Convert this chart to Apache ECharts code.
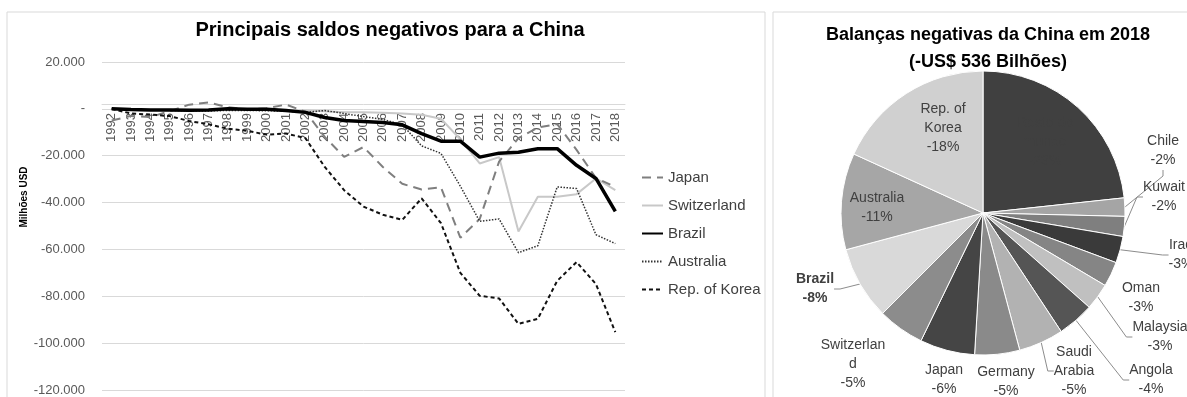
<!DOCTYPE html>
<html>
<head>
<meta charset="utf-8">
<script src="https://cdn.jsdelivr.net/npm/echarts@6/dist/echarts.min.js"></script>
<style>
  html, body { margin: 0; padding: 0; background: #fff; }
  #chart { width: 1187px; height: 397px; }
</style>
</head>
<body>
<div id="chart"></div>
<script>
// Line chart: saldos (milhões USD)
const years = ['1992','1993','1994','1995','1996','1997','1998','1999','2000','2001','2002','2003','2004','2005',
  '2006','2007','2008','2009','2010','2011','2012','2013','2014','2015','2016','2017','2018'];
const japan = [-5000,-3000,-3500,-1000,1800,2700,700,-300,300,1800,-1200,-12000,-20500,-16300,
  -24800,-32000,-34400,-33500,-55000,-47000,-22500,-12500,-8000,-6500,-17500,-29500,-33300];
const switzerland = [-200,-300,-400,-400,-400,-500,-300,-400,-500,-600,-700,-1000,-1500,-1500,
  -1700,-2000,-2500,-4200,-13000,-23300,-20600,-52300,-37500,-37500,-36400,-29700,-34700];
const brazil = [0,-300,-500,-500,-600,-500,0,-200,-200,-700,-1500,-3700,-5000,-5400,
  -5800,-6800,-10600,-13800,-13800,-20600,-18900,-18500,-17000,-17000,-24100,-29700,-43800];
const australia = [0,-200,-400,-600,-900,-900,-700,-700,-800,-1000,-1500,-700,-2000,-3300,
  -4500,-6800,-15800,-19000,-33000,-48000,-47000,-61400,-58400,-33300,-34000,-53700,-57500];
const korea = [0,-2000,-2400,-3100,-5200,-6600,-8500,-9400,-11000,-10500,-12500,-24800,-34700,-41700,
  -45200,-47400,-38200,-48800,-70000,-79800,-80900,-91800,-89600,-73400,-65400,-74800,-95300];

// Pie chart: 2018 (bilhões USD)
const pieTotal = 536;
const pieNames = ['Resto do mundo','Chile','Kuwait','Iraq','Oman','Malaysia','Angola','Saudi Arabia',
  'Germany','Japan','Switzerland','Brazil','Australia','Rep. of Korea'];
const pieLabels = ['Resto do\nmundo','Chile','Kuwait','Iraq','Oman','Malaysia','Angola','Saudi\nArabia',
  'Germany','Japan','Switzerlan\nd','Brazil','Australia','Rep. of\nKorea'];
const pieValues = [123,11,12,16,15,16,22,27,27,33,28,44,58,96];

const pieColors = ['#404040','#a5a5a5','#7f7f7f','#3a3a3a','#858585','#c0c0c0','#555555','#b2b2b2',
  '#8a8a8a','#454545','#8c8c8c','#d9d9d9','#a6a6a6','#d0d0d0'];
const insideSlices = ['Resto do mundo','Australia','Rep. of Korea'];
const noLeader = ['Oman','Germany','Japan','Switzerland'];
// where Excel put each data label (label centre)
const pieLabelPos = {
  'Resto do mundo': [1045, 142], 'Rep. of Korea': [943, 128], 'Australia': [877, 208],
  'Chile': [1163, 151], 'Kuwait': [1164, 197], 'Iraq': [1181, 255], 'Oman': [1141, 298],
  'Malaysia': [1160, 337], 'Angola': [1151, 380], 'Saudi Arabia': [1074, 371],
  'Germany': [1006, 382], 'Japan': [944, 380], 'Switzerland': [853, 364], 'Brazil': [815, 289]
};

const font = "'Liberation Sans', Arial, sans-serif";
const pieCenter = [983, 213];
const pieRadius = 142;

function fmtThousands(v) {
  if (v === 0) return '-';
  let s = String(Math.abs(v)).replace(/\B(?=(\d{3})+(?!\d))/g, '.');
  return (v < 0 ? '-' : '') + s;
}

let chart = echarts.init(document.getElementById('chart'));

let lineSeries = [
  { name: 'Japan', data: japan, color: '#7f7f7f', width: 2, type: [9, 6], z: 2 },
  { name: 'Switzerland', data: switzerland, color: '#c8c8c8', width: 2, type: 'solid', z: 1 },
  { name: 'Brazil', data: brazil, color: '#000000', width: 3.5, type: 'solid', z: 5 },
  { name: 'Australia', data: australia, color: '#333333', width: 1.5, type: [1.5, 1.5], z: 3 },
  { name: 'Rep. of Korea', data: korea, color: '#111111', width: 2, type: [4, 3], z: 4 }
].map((s) => ({
  name: s.name,
  type: 'line',
  data: s.data,
  symbol: 'none',
  z: s.z,
  color: s.color,
  lineStyle: { color: s.color, width: s.width, type: s.type },
  emphasis: { disabled: true }
}));

let pieData = pieNames.map((name, i) => {
  let item = { name: name, value: pieValues[i], itemStyle: { color: pieColors[i] } };
  let inside = insideSlices.indexOf(name) >= 0;
  item.label = { position: inside ? 'inside' : 'outside' };
  if (name == 'Brazil') item.label.fontWeight = 'bold';
  if (inside || noLeader.indexOf(name) >= 0) item.labelLine = { show: false };
  return item;
});

let option = {
  animation: false,
  backgroundColor: '#ffffff',
  textStyle: { fontFamily: font },
  graphic: [
    { type: 'rect', shape: { x: 7, y: 12, width: 758, height: 400 }, style: { fill: 'none', stroke: '#d9d9d9', lineWidth: 1 } },
    { type: 'rect', shape: { x: 773, y: 12, width: 430, height: 400 }, style: { fill: 'none', stroke: '#d9d9d9', lineWidth: 1 } },
    { type: 'text', x: 24, y: 197, rotation: Math.PI / 2,
      style: { text: 'Milhões USD', font: 'bold 10px ' + font, fill: '#000', align: 'center', verticalAlign: 'middle' } }
  ],
  title: [
    { text: 'Principais saldos negativos para a China', left: 385, top: 15, textAlign: 'center',
      textStyle: { fontFamily: font, fontSize: 20, fontWeight: 'bold', color: '#000' } },
    { text: 'Balanças negativas da China em 2018\n(-US$ 536 Bilhões)', left: 983, top: 17, textAlign: 'center',
      textStyle: { fontFamily: font, fontSize: 18, fontWeight: 'bold', color: '#000', lineHeight: 27 } }
  ],
  legend: {
    orient: 'vertical',
    left: 636,
    top: 165,
    itemWidth: 21,
    itemHeight: 14,
    itemGap: 13,
    itemStyle: { opacity: 0 },
    textStyle: { fontFamily: font, fontSize: 15, color: '#404040' },
    data: ['Japan', 'Switzerland', 'Brazil', 'Australia', 'Rep. of Korea']
  },
  grid: { left: 102, right: 562, top: 62, bottom: 7, containLabel: false },
  xAxis: {
    type: 'category',
    data: years,
    boundaryGap: true,
    axisLine: { show: true, onZero: false, lineStyle: { color: '#d9d9d9' } },
    axisTick: { show: false },
    axisLabel: { interval: 0, rotate: 90, margin: 9, fontSize: 13, color: '#595959', fontFamily: font }
  },
  yAxis: {
    type: 'value',
    min: -120000,
    max: 20000,
    interval: 20000,
    axisLine: { show: false },
    axisTick: { show: false },
    splitLine: { lineStyle: { color: '#d9d9d9' } },
    axisLabel: { fontSize: 13, color: '#595959', margin: 17, fontFamily: font, formatter: fmtThousands }
  },
  series: lineSeries.concat([{
    type: 'pie',
    center: pieCenter,
    radius: pieRadius,
    startAngle: 90,
    clockwise: true,
    avoidLabelOverlap: false,
    data: pieData,
    itemStyle: { borderColor: '#ffffff', borderWidth: 1 },
    label: {
      fontFamily: font,
      fontSize: 14,
      lineHeight: 19,
      color: '#404040',
      align: 'center',
      overflow: 'none',
      formatter: (p) => pieLabels[p.dataIndex] + '\n-' + Math.round(p.value / pieTotal * 100) + '%'
    },
    labelLine: { length: 6, length2: 6, lineStyle: { color: '#8c8c8c', width: 1 } },
    labelLayout: (params) => {
      let pos = pieLabelPos[pieNames[params.dataIndex]];
      return { x: pos[0], y: pos[1], align: 'center', verticalAlign: 'middle' };
    },
    emphasis: { disabled: true }
  }])
};

chart.setOption(option);

// put the category axis on the zero line, as Excel does
let zeroY = chart.convertToPixel({ yAxisIndex: 0 }, 0);
let bottomY = chart.getHeight() - option.grid.bottom;
chart.setOption({ xAxis: { offset: zeroY - bottomY } });
</script>
</body>
</html>
